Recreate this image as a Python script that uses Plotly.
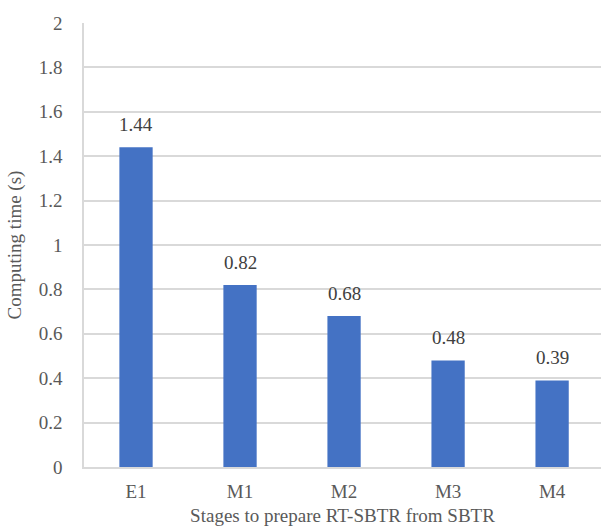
import plotly.graph_objects as go

stages = ["E1", "M1", "M2", "M3", "M4"]
times = [1.44, 0.82, 0.68, 0.48, 0.39]
y_ticks = [0, 0.2, 0.4, 0.6, 0.8, 1, 1.2, 1.4, 1.6, 1.8, 2]
y_tick_text = ["0", "0.2", "0.4", "0.6", "0.8", "1", "1.2", "1.4", "1.6", "1.8", "2"]

FONT = "Liberation Serif"
TEXT_COLOR = "#595959"
GRID = "#d9d9d9"

fig = go.Figure()
fig.add_trace(go.Bar(
    x=list(range(len(stages))),
    y=times,
    marker=dict(color="#4472c4", line=dict(width=0)),
    width=0.32,
))

# value labels above each bar
for i, v in enumerate(times):
    fig.add_annotation(
        x=i, y=v, text=f"{v:g}", showarrow=False,
        yanchor="bottom", yshift=10,
        font=dict(family=FONT, size=19, color="#404040"),
    )

fig.update_layout(
    width=601, height=530,
    margin=dict(l=84, r=0, t=23, b=63),
    paper_bgcolor="white", plot_bgcolor="white",
    showlegend=False,
    font=dict(family=FONT, size=19, color=TEXT_COLOR),
    xaxis=dict(
        range=[-0.5, 4.47],
        tickmode="array",
        tickvals=list(range(len(stages))),
        ticktext=stages,
        tickfont=dict(family=FONT, size=19, color=TEXT_COLOR),
        showgrid=False,
        showline=True, linecolor=GRID, linewidth=1.5,
        ticks="", ticklabelstandoff=6,
        title=dict(text="Stages to prepare RT-SBTR from SBTR", standoff=8,
                   font=dict(family=FONT, size=19, color=TEXT_COLOR)),
        fixedrange=True,
    ),
    yaxis=dict(
        range=[0, 2],
        tickmode="array",
        tickvals=y_ticks,
        ticktext=y_tick_text,
        tickfont=dict(family=FONT, size=19, color=TEXT_COLOR),
        showgrid=True, gridcolor=GRID, gridwidth=1.5,
        showline=True, linecolor=GRID, linewidth=1.5,
        zeroline=False,
        ticks="", ticklabelstandoff=16,
        title=dict(text="Computing time (s)", standoff=12,
                   font=dict(family=FONT, size=19, color=TEXT_COLOR)),
        fixedrange=True,
    ),
)

fig.write_html("out.html")
